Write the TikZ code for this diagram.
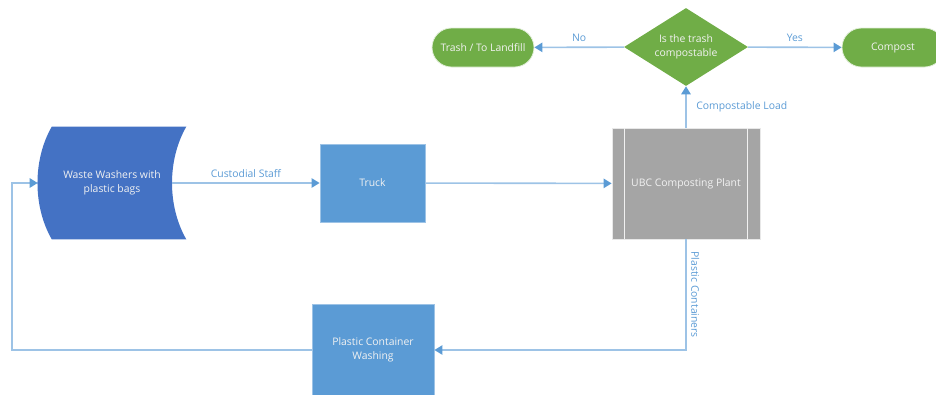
\documentclass[tikz,border=0pt]{standalone}
\usepackage{fontspec}
\setmainfont{Open Sans}
\usetikzlibrary{shapes.geometric,arrows.meta}
\newlength{\du}
\setlength{\du}{0.75pt}
\definecolor{wasteblue}{HTML}{4472C4}
\definecolor{boxblue}{HTML}{5B9BD5}
\definecolor{edgeblue}{HTML}{9DC3E6}
\definecolor{plantgray}{HTML}{A5A5A5}
\definecolor{decisiongreen}{HTML}{70AD47}
\tikzset{
  boxtext/.style={text=white!95!black, font=\fontsize{7.8}{10.5}\selectfont, align=center},
  stepbox/.style={boxtext, rectangle, fill=boxblue, draw=edgeblue, line width=0.6pt, inner sep=0pt},
  plantbox/.style={boxtext, rectangle, fill=plantgray, draw=white!75!plantgray, line width=0.6pt, inner sep=0pt},
  decision/.style={boxtext, diamond, shape aspect=1.6, fill=decisiongreen, inner sep=0pt},
  terminal/.style={boxtext, rectangle, rounded corners=19.5\du, fill=decisiongreen, draw=white!80!decisiongreen, line width=0.6pt, inner sep=0pt},
  flowline/.style={draw=edgeblue, line width=1.2pt, -{Triangle[length=6pt,width=7pt,color=boxblue]}},
  flowlabel/.style={text=boxblue, font=\fontsize{7.8}{10.5}\selectfont}
}
\begin{document}
\begin{tikzpicture}
\pgftransformxscale{1.000000}
\pgftransformyscale{-1.000000}
\useasboundingbox (0\du,0\du) rectangle (936\du,394\du);
\clip (0\du,0\du) rectangle (936\du,394\du);
% stored data shape
\node[boxtext, minimum width=148\du, minimum height=112\du, inner sep=0pt] (waste) at (112\du,183\du) {};
\fill[wasteblue] ([xshift=14\du]waste.north west) -- (waste.north east)
  .. controls +(-19\du,33\du) and +(-19\du,-33\du) .. (waste.south east)
  -- ([xshift=14\du]waste.south west)
  .. controls +(-19\du,-33\du) and +(-19\du,33\du) .. ([xshift=14\du]waste.north west) -- cycle;
\node[boxtext] (wastetext) at (waste.center) {Waste Washers with\\plastic bags};
\coordinate (wasteout) at ([xshift=-14\du]waste.east);
\node[stepbox, minimum width=105\du, minimum height=78\du] (truck) at (372.5\du,183\du) {Truck};
\node[plantbox, minimum width=148\du, minimum height=111\du] (plant) at (686\du,183.5\du) {UBC Composting Plant};
\draw[white!85!plantgray, line width=0.8pt] ([xshift=13\du]plant.north west) -- ([xshift=13\du]plant.south west);
\draw[white!85!plantgray, line width=0.8pt] ([xshift=-13\du]plant.north east) -- ([xshift=-13\du]plant.south east);
\node[decision, minimum width=124\du, minimum height=78\du] (check) at (686\du,47\du) {Is the trash\\compostable};
\node[terminal, minimum width=102\du, minimum height=39\du] (trash) at (483\du,47.5\du) {Trash / To Landfill};
\node[terminal, minimum width=102\du, minimum height=39\du] (compost) at (893\du,47.5\du) {Compost};
\node[stepbox, minimum width=122\du, minimum height=92\du] (washing) at (373\du,350\du) {Plastic Container\\Washing};
\coordinate (loopcorner) at (12\du,350\du);
\draw[flowline] (wasteout) -- (truck.west) node[flowlabel, midway, above] {Custodial Staff};
\draw[flowline] (truck) -- (plant);
\draw[flowline] (plant) -- (check) node[flowlabel, midway, right, xshift=5\du] {Compostable Load};
\draw[flowline] (check) -- (trash) node[flowlabel, midway, above] {No};
\draw[flowline] (check) -- (compost) node[flowlabel, midway, above] {Yes};
\draw[flowline] (plant.south) |- (washing.east) node[flowlabel, pos=0.25, anchor=south, rotate=-90] {Plastic Containers};
\draw[flowline] (washing.west) -- (loopcorner) |- (waste.west);
\end{tikzpicture}
\end{document}
